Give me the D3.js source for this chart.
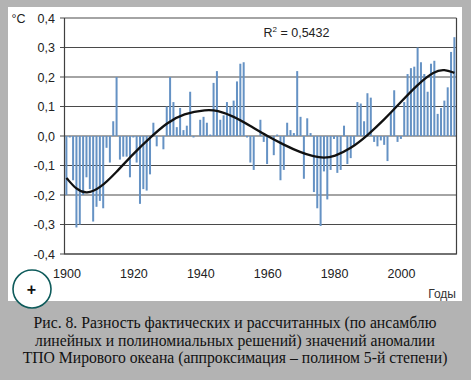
<!DOCTYPE html>
<html>
<head>
<meta charset="utf-8">
<script src="https://cdn.jsdelivr.net/npm/d3@7"></script>
<style>
  html, body { margin: 0; padding: 0; background: #b3b3b3; }
  svg { display: block; }
</style>
</head>
<body>
<div id="chart"></div>
<script>
const startYear = 1900
const anomalies = [
  -0.2, -0.005, -0.15, -0.31, -0.3, -0.2, -0.14, -0.18, -0.29, -0.24,
  -0.22, -0.245, -0.04, -0.09, 0.05, 0.2, -0.08, -0.07, -0.07, -0.14,
  -0.005, -0.09, -0.23, -0.18, -0.185, -0.13, 0.045, -0.035, 0, -0.045,
  0.1, 0.2, 0.115, 0.03, 0.095, 0.02, 0.035, 0.15, -0.005, 0,
  0.055, 0.065, 0.045, 0.005, 0.18, 0.22, 0.055, 0.07, 0.115, 0.1,
  0.12, 0.185, 0.245, 0.25, -0.005, -0.09, -0.115, 0, 0.055, -0.02,
  -0.095, 0, -0.065, 0.005, -0.15, -0.115, 0.045, 0.02, 0.01, 0.22,
  0.065, -0.145, 0.06, 0.01, -0.19, -0.245, -0.305, -0.12, -0.215, -0.115,
  -0.01, -0.125, -0.115, 0.035, -0.095, -0.075, -0.03, 0.115, 0.11, 0.05,
  0.145, 0.13, -0.02, -0.035, -0.015, -0.03, -0.085, 0.08, 0.155, -0.02,
  -0.01, 0.115, 0.21, 0.23, 0.235, 0.3, 0.25, 0.21, 0.15, 0.245,
  0.255, 0.075, 0.095, 0.12, 0.165, 0.285, 0.335
]
const trendYears = [1900, 1903, 1906, 1910, 1915, 1920, 1925, 1930, 1935, 1942, 1945, 1950, 1955, 1960, 1965, 1970, 1974, 1977, 1980, 1985, 1990, 1995, 2000, 2005, 2010, 2013, 2016]
const trendValues = [-0.142, -0.182, -0.197, -0.178, -0.122, -0.06, -0.006, 0.045, 0.076, 0.09, 0.087, 0.067, 0.034, 0, -0.03, -0.056, -0.07, -0.075, -0.07, -0.043, 0.002, 0.055, 0.115, 0.175, 0.22, 0.226, 0.214]
const yTicks = [0.4, 0.3, 0.2, 0.1, 0, -0.1, -0.2, -0.3, -0.4]
const xTicks = [1900, 1920, 1940, 1960, 1980, 2000]
const captionLines = [
  "Рис. 8. Разность фактических и рассчитанных (по ансамблю",
  "линейных и полиномиальных решений) значений аномалии",
  "ТПО Мирового океана (аппроксимация – полином 5-й степени)"
]

const width = 471
const height = 380
const margin = { top: 18, right: 456.5, bottom: 254, left: 64.5 }
const axisFont = "Liberation Sans, Arial, sans-serif"

const svg = d3.select("#chart").append("svg")
  .attr("width", width)
  .attr("height", height)

svg.append("rect")
  .attr("width", width).attr("height", height)
  .attr("fill", "#b3b3b3")

svg.append("rect")
  .attr("x", 8).attr("y", 7)
  .attr("width", 454).attr("height", 294)
  .attr("fill", "#fff")

const x = d3.scaleLinear().domain([1900, 2016]).range([66.4, 454.4])
const y = d3.scaleLinear().domain([-0.4, 0.4]).range([margin.bottom, margin.top])
const fmt = v => v.toFixed(1).replace(".", ",")

// gridlines
svg.append("g").selectAll("line")
  .data(yTicks)
  .join("line")
    .attr("x1", 60)
    .attr("x2", margin.right)
    .attr("y1", d => y(d))
    .attr("y2", d => y(d))
    .attr("stroke", "#4a4a4a")
    .attr("stroke-width", 1.2)

// bars
svg.append("g").selectAll("rect")
  .data(anomalies)
  .join("rect")
    .attr("x", (d, i) => x(startYear + i) - 1)
    .attr("width", 2)
    .attr("y", d => y(Math.max(d, 0)))
    .attr("height", d => Math.abs(y(d) - y(0)))
    .attr("fill", "#6592c4")

// axis frame
svg.append("path")
  .attr("d", `M${margin.left},${margin.top}V${margin.bottom}H${margin.right}V${margin.top}`)
  .attr("fill", "none")
  .attr("stroke", "#404040")
  .attr("stroke-width", 1.2)

const line = d3.line()
  .x((d, i) => x(trendYears[i]))
  .y(d => y(d))
  .curve(d3.curveBasis)

svg.append("path")
  .datum(trendValues)
  .attr("fill", "none")
  .attr("stroke", "#111")
  .attr("stroke-width", 2.3)
  .attr("d", line)

// y labels
svg.append("g").selectAll("text")
  .data(yTicks)
  .join("text")
    .attr("x", 55)
    .attr("y", d => y(d) + 4.5)
    .attr("text-anchor", "end")
    .attr("font-family", axisFont)
    .attr("font-size", 12.5)
    .attr("fill", "#222")
    .text(d => fmt(d))

// x labels
svg.append("g").selectAll("text")
  .data(xTicks)
  .join("text")
    .attr("x", d => x(d) + 0.6)
    .attr("y", 278)
    .attr("text-anchor", "middle")
    .attr("font-family", axisFont)
    .attr("font-size", 12.5)
    .attr("fill", "#222")
    .text(d => d)

svg.append("text")
  .attr("x", 11.5).attr("y", 22.5)
  .attr("font-family", axisFont)
  .attr("font-size", 12.5)
  .attr("fill", "#222")
  .text("°C")

svg.append("text")
  .attr("x", 456).attr("y", 298)
  .attr("text-anchor", "end")
  .attr("font-family", axisFont)
  .attr("font-size", 12)
  .attr("fill", "#333")
  .text("Годы")

const r2 = svg.append("text")
  .attr("x", 263.5).attr("y", 37)
  .attr("font-family", axisFont)
  .attr("font-size", 12.5)
  .attr("fill", "#222")
r2.append("tspan").text("R")
r2.append("tspan").attr("dy", -5).attr("font-size", 8).text("2")
r2.append("tspan").attr("dy", 5).text(" = 0,5432")

// badge
svg.append("circle")
  .attr("cx", 32).attr("cy", 289)
  .attr("r", 19)
  .attr("fill", "#fff")
  .attr("stroke", "#0e5b5b")
  .attr("stroke-width", 1.6)

svg.append("text")
  .attr("x", 31.5).attr("y", 294.5)
  .attr("text-anchor", "middle")
  .attr("font-family", axisFont)
  .attr("font-size", 16)
  .attr("font-weight", "bold")
  .attr("fill", "#111")
  .text("+")

svg.append("g").selectAll("text")
  .data(captionLines)
  .join("text")
    .attr("x", 235)
    .attr("y", (d, i) => 328 + i * 17.5)
    .attr("text-anchor", "middle")
    .attr("font-family", "Liberation Serif, Times New Roman, serif")
    .attr("font-size", 15.7)
    .attr("fill", "#111")
    .text(d => d)
</script>
</body>
</html>
